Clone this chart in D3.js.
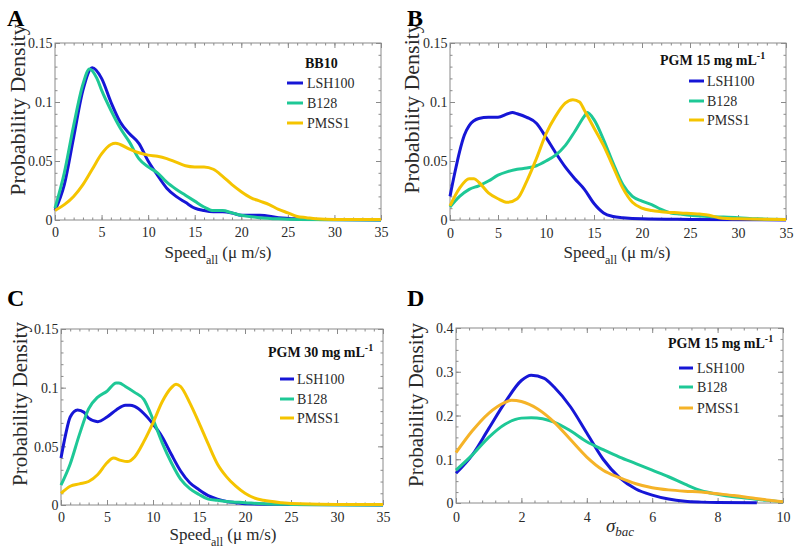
<!DOCTYPE html>
<html><head><meta charset="utf-8">
<script src="https://cdn.jsdelivr.net/npm/d3@7"></script>
<style>body{margin:0;background:#fff}svg text{font-family:"Liberation Serif","Tinos","Times New Roman",Times,"DejaVu Serif",serif !important}</style></head>
<body><svg id="c" width="800" height="559"></svg>
<script>
// ---------- DATA ----------
const seriesNames = ["LSH100", "B128", "PMSS1"];
const legendTitles = ["BB10", "PGM 15 mg mL", "PGM 30 mg mL", "PGM 15 mg mL"];
const panelLetters = ["A", "B", "C", "D"];
const speedTicks = [0, 5, 10, 15, 20, 25, 30, 35];
const densTicksSpeed = [0, 0.05, 0.1, 0.15];
const sigmaTicks = [0, 2, 4, 6, 8, 10];
const densTicksSigma = [0, 0.1, 0.2, 0.3, 0.4];

// Panel A (BB10)
const aLshX = [0,1,2,3,4,5,6,7,8,9,10,11,12,13,14,15,16,17,18,19,20,22,24,26,28,35];
const aLshY = [0.008,0.03,0.07,0.11,0.129,0.12,0.1,0.083,0.073,0.065,0.05,0.038,0.027,0.02,0.015,0.01,0.008,0.007,0.007,0.006,0.004,0.004,0.002,0.001,0.0005,0];
const aB128X = [0,1,2,3,3.7,4.5,5,6,7,8,9,10,11,12,13,14,15,16,17,18,19,20,22,24,26,35];
const aB128Y = [0.01,0.04,0.08,0.115,0.128,0.12,0.11,0.093,0.078,0.066,0.052,0.045,0.04,0.032,0.026,0.021,0.016,0.011,0.008,0.008,0.006,0.004,0.002,0.001,0.0005,0];
const aPmsX = [0,1,2,3,4,5,6,6.5,7,8,9,10,11,12,13,14,15,16,17,18,19,20,21,22,23,24,25,26,27,28,30,35];
const aPmsY = [0.008,0.013,0.02,0.03,0.043,0.056,0.064,0.065,0.064,0.06,0.057,0.055,0.054,0.052,0.049,0.046,0.045,0.045,0.043,0.037,0.03,0.024,0.019,0.016,0.013,0.009,0.006,0.003,0.002,0.001,0.0005,0.0005];

// Panel B (PGM 15)
const bLshX = [0,0.5,1,1.5,2,3,4,5,6,6.5,7,8,9,10,11,12,13,14,15,16,17,18,20,25,35];
const bLshY = [0.02,0.04,0.058,0.072,0.08,0.086,0.087,0.087,0.09,0.091,0.09,0.087,0.082,0.07,0.057,0.045,0.035,0.026,0.014,0.006,0.003,0.002,0.001,0.0005,0];
const bB128X = [0,1,2,3,4,5,6,7,8,9,10,11,12,13,14,14.3,15,16,17,18,19,20,21,22,23,24,25,27,30,32,35];
const bB128Y = [0.011,0.02,0.026,0.029,0.033,0.038,0.041,0.043,0.044,0.046,0.05,0.055,0.063,0.075,0.088,0.091,0.085,0.068,0.048,0.03,0.02,0.016,0.013,0.009,0.006,0.005,0.004,0.003,0.002,0.001,0.0005];
const bPmsX = [0,1,2,2.5,3,4,5,6,7,8,9,10,11,12,12.8,13.5,14,15,16,17,18,19,20,21,22,24,26,27,28,30,35];
const bPmsY = [0.012,0.027,0.035,0.035,0.032,0.023,0.018,0.015,0.018,0.033,0.052,0.073,0.088,0.099,0.102,0.1,0.093,0.078,0.063,0.045,0.027,0.015,0.01,0.008,0.007,0.006,0.005,0.004,0.002,0.001,0.0005];

// Panel C (PGM 30)
const cLshX = [0,0.5,1,1.8,2.5,3,4,5,6,7,7.5,8,9,10,11,12,13,14,15,16,17,18,19,20,25,35];
const cLshY = [0.04,0.06,0.075,0.081,0.079,0.074,0.071,0.075,0.081,0.085,0.085,0.084,0.078,0.069,0.058,0.043,0.029,0.019,0.013,0.008,0.005,0.003,0.002,0.001,0.0005,0];
const cB128X = [0,1,2,3,4,5,6,6.3,7,8,9,10,11,12,13,14,15,16,17,18,20,22,25,35];
const cB128Y = [0.017,0.035,0.06,0.082,0.092,0.097,0.104,0.104,0.101,0.096,0.09,0.073,0.053,0.036,0.022,0.014,0.009,0.005,0.004,0.003,0.002,0.001,0.0005,0];
const cPmsX = [0,1,2,3,4,5,5.7,6.5,7.2,8,9,10,11,12,12.5,13,14,15,16,17,18,19,20,21,22,24,26,30,35];
const cPmsY = [0.01,0.016,0.018,0.02,0.026,0.036,0.04,0.038,0.037,0.041,0.054,0.07,0.088,0.1,0.103,0.101,0.087,0.07,0.052,0.035,0.024,0.016,0.01,0.006,0.004,0.002,0.001,0.0005,0.0005];

// Panel D (sigma_bac, PGM 15)
const dLshX = [0,0.5,1,1.5,2,2.3,2.7,3,3.5,4,4.5,5,5.5,6,6.5,7,7.5,8,9.2];
const dLshY = [0.068,0.11,0.17,0.23,0.28,0.292,0.285,0.265,0.22,0.16,0.1,0.058,0.032,0.018,0.009,0.004,0.002,0.001,0.0005];
const dB128X = [0,0.5,1,1.5,2,2.3,3,3.5,4,4.5,5,5.5,6,6.5,7,7.5,8,8.5,9,9.5,10];
const dB128Y = [0.075,0.11,0.15,0.18,0.194,0.195,0.185,0.165,0.14,0.122,0.105,0.09,0.075,0.06,0.043,0.028,0.02,0.014,0.01,0.006,0.003];
const dPmsX = [0,0.5,1,1.5,1.7,2,2.5,3,3.5,4,4.5,5,5.5,6,6.5,7,7.5,8,8.5,9,9.5,10];
const dPmsY = [0.115,0.165,0.205,0.23,0.235,0.232,0.215,0.185,0.145,0.105,0.075,0.058,0.044,0.035,0.03,0.027,0.025,0.021,0.017,0.012,0.007,0.003];

// ---------- STYLE / LAYOUT ----------
const colorsSpeed = ["#1616d6", "#1ec896", "#f5c400"];
const colorsSigma = ["#1616d6", "#1ec896", "#f5b328"];
const SERIF = '"Liberation Serif","Tinos","Times New Roman",Times,"DejaVu Serif",serif';

const panels = [
  {letter:0, L:55, R:381, T:43, B:220, xd:[0,35], yd:[0,0.15], xt:speedTicks, yt:densTicksSpeed, xm:1, ym:0.01,
   series:[[aLshX,aLshY],[aB128X,aB128Y],[aPmsX,aPmsY]], colors:colorsSpeed, sup:false,
   leg:{tx:305, ty:68, lx0:287, lx1:303, rows:[83,103,123], textx:307},
   ylab:{x:25, y:110, fs:22}, xlab:{x:218, y:258, kind:"speed"}, xtickY:237, letterPos:[7,26]},
  {letter:1, L:450, R:786, T:43, B:220, xd:[0,35], yd:[0,0.15], xt:speedTicks, yt:densTicksSpeed, xm:1, ym:0.01,
   series:[[bLshX,bLshY],[bB128X,bB128Y],[bPmsX,bPmsY]], colors:colorsSpeed, sup:true,
   leg:{tx:660, ty:65, lx0:689, lx1:704, rows:[81,101,120], textx:707},
   ylab:{x:419, y:108, fs:22}, xlab:{x:617, y:258, kind:"speed"}, xtickY:238, letterPos:[407,26]},
  {letter:2, L:61, R:383, T:329, B:505, xd:[0,35], yd:[0,0.15], xt:speedTicks, yt:densTicksSpeed, xm:1, ym:0.01,
   series:[[cLshX,cLshY],[cB128X,cB128Y],[cPmsX,cPmsY]], colors:colorsSpeed, sup:true,
   leg:{tx:268, ty:357, lx0:280, lx1:294, rows:[379,399,418], textx:297},
   ylab:{x:27, y:404, fs:21}, xlab:{x:223, y:540, kind:"speed"}, xtickY:522, letterPos:[7,306]},
  {letter:3, L:456, R:783, T:328, B:503, xd:[0,10], yd:[0,0.4], xt:sigmaTicks, yt:densTicksSigma, xm:0.4, ym:0.025,
   series:[[dLshX,dLshY],[dB128X,dB128Y],[dPmsX,dPmsY]], colors:colorsSigma, sup:true,
   leg:{tx:668, ty:348, lx0:679, lx1:693, rows:[368,387,408], textx:697},
   ylab:{x:423, y:405, fs:21}, xlab:{x:620, y:532, kind:"sigma"}, xtickY:522, letterPos:[407,306]}
];

const svg = d3.select("#c");
const fmt = d => d === 0 ? "0" : String(+d.toFixed(3));
const frameColor = "#8a8a8a";
const textColor = "#2a2a2a";

function range(a, b, s) { const out = []; for (let v = a; v <= b + 1e-9; v += s) out.push(+v.toFixed(4)); return out; }

panels.forEach(p => {
  const x = d3.scaleLinear().domain(p.xd).range([p.L, p.R]);
  const y = d3.scaleLinear().domain(p.yd).range([p.B, p.T]);
  const g = svg.append("g");

  const minorX = range(p.xd[0], p.xd[1], p.xm);
  const minorY = range(p.yd[0], p.yd[1], p.ym);
  const addAxis = (axis, transform, labels) => {
    const a = g.append("g").attr("transform", transform).call(axis);
    a.attr("font-family", SERIF);
    a.select(".domain").remove();
    a.selectAll("line").attr("stroke", frameColor);
    a.selectAll("text").attr("fill", textColor).attr("font-size", 14).attr("font-family", SERIF);
    if (!labels) a.selectAll("text").remove();
    return a;
  };
  addAxis(d3.axisBottom(x).tickValues(minorX).tickSize(-2.5).tickFormat(""), `translate(0,${p.B})`, false);
  addAxis(d3.axisTop(x).tickValues(minorX).tickSize(-2.5).tickFormat(""), `translate(0,${p.T})`, false);
  addAxis(d3.axisLeft(y).tickValues(minorY).tickSize(-2.5).tickFormat(""), `translate(${p.L},0)`, false);
  addAxis(d3.axisRight(y).tickValues(minorY).tickSize(-2.5).tickFormat(""), `translate(${p.R},0)`, false);
  const xb = addAxis(d3.axisBottom(x).tickValues(p.xt).tickSize(-5).tickPadding(0).tickFormat(fmt), `translate(0,${p.B})`, true);
  xb.selectAll("text").attr("y", p.xtickY - p.B).attr("dy", null);
  addAxis(d3.axisTop(x).tickValues(p.xt).tickSize(-5).tickFormat(""), `translate(0,${p.T})`, false);
  const yl = addAxis(d3.axisLeft(y).tickValues(p.yt).tickSize(-5).tickFormat(fmt), `translate(${p.L},0)`, true);
  yl.selectAll("text").attr("x", -2.5).attr("dy", "0.35em");
  addAxis(d3.axisRight(y).tickValues(p.yt).tickSize(-5).tickFormat(""), `translate(${p.R},0)`, false);

  g.append("rect").attr("x", p.L).attr("y", p.T).attr("width", p.R - p.L).attr("height", p.B - p.T)
    .attr("fill", "none").attr("stroke", frameColor).attr("stroke-width", 1);

  const line = d3.line().x(d => x(d[0])).y(d => y(d[1])).curve(d3.curveMonotoneX);
  p.series.forEach((s, i) => {
    const pts = s[0].map((v, k) => [v, s[1][k]]);
    g.append("path").datum(pts).attr("d", line).attr("fill", "none")
      .attr("stroke", p.colors[i]).attr("stroke-width", 3).attr("stroke-linejoin", "round");
  });

  const t = g.append("text").attr("x", p.leg.tx).attr("y", p.leg.ty).attr("font-weight", "bold")
    .attr("font-family", SERIF).attr("font-size", 14).attr("fill", "#111").text(legendTitles[p.letter]);
  if (p.sup) t.append("tspan").attr("dy", -6).attr("font-size", 10).text("-1");
  seriesNames.forEach((n, i) => {
    const yy = p.leg.rows[i];
    g.append("line").attr("x1", p.leg.lx0).attr("x2", p.leg.lx1).attr("y1", yy).attr("y2", yy)
      .attr("stroke", p.colors[i]).attr("stroke-width", 3);
    g.append("text").attr("x", p.leg.textx).attr("y", yy + 5).attr("font-family", SERIF).attr("font-size", 14)
      .attr("fill", textColor).text(n);
  });

  g.append("text").attr("transform", `translate(${p.ylab.x},${p.ylab.y}) rotate(-90)`)
    .attr("text-anchor", "middle").attr("font-family", SERIF).attr("font-size", p.ylab.fs).attr("fill", textColor)
    .text("Probability Density");

  if (p.xlab.kind === "speed") {
    const xt = g.append("text").attr("x", p.xlab.x).attr("y", p.xlab.y).attr("text-anchor", "middle")
      .attr("font-family", SERIF).attr("font-size", 17).attr("fill", textColor);
    xt.append("tspan").text("Speed");
    xt.append("tspan").attr("dy", 6).attr("font-size", 12).text("all");
    xt.append("tspan").attr("dy", -6).text(" (\u03bc m/s)");
  } else {
    const xt = g.append("text").attr("x", p.xlab.x).attr("y", p.xlab.y).attr("text-anchor", "middle")
      .attr("font-family", SERIF).attr("font-size", 19).attr("font-style", "italic").attr("fill", textColor);
    xt.append("tspan").text("\u03c3");
    xt.append("tspan").attr("dy", 4).attr("font-size", 13).text("bac");
  }

  g.append("text").attr("x", p.letterPos[0]).attr("y", p.letterPos[1]).attr("font-weight", "bold")
    .attr("font-family", SERIF).attr("font-size", 24).attr("fill", "#000").text(panelLetters[p.letter]);
});
</script>
</body></html>
